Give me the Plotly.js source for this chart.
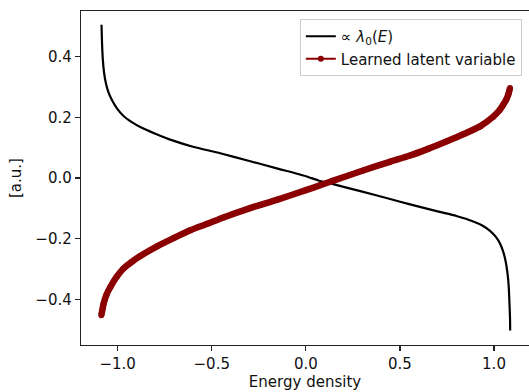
<!DOCTYPE html>
<html>
<head>
<meta charset="utf-8">
<script src="https://cdn.plot.ly/plotly-3.0.1.min.js"></script>
<style>html,body{margin:0;padding:0;background:#fff}#chart{width:529px;height:392px}</style>
</head>
<body>
<div id="chart"></div>
<script>
// Black curve: proportional to lambda_0(E)
const lambdaE = [-1.086, -1.083, -1.079, -1.072, -1.062, -1.048, -1.030, -1.005, -0.969, -0.925, -0.880, -0.800, -0.705, -0.600, -0.455, -0.300, -0.150, 0.000, 0.067, 0.150, 0.300, 0.448, 0.554, 0.700, 0.800, 0.890, 0.940, 0.979, 1.010, 1.032, 1.050, 1.062, 1.071, 1.078, 1.082, 1.085, 1.086];
const lambdaY = [0.505, 0.440, 0.390, 0.345, 0.310, 0.280, 0.256, 0.230, 0.204, 0.184, 0.168, 0.146, 0.123, 0.103, 0.0815, 0.056, 0.031, 0.006, -0.008, -0.021, -0.045, -0.069, -0.087, -0.110, -0.125, -0.143, -0.157, -0.174, -0.194, -0.216, -0.245, -0.275, -0.310, -0.355, -0.410, -0.460, -0.502];
// Red curve: learned latent variable
const latentE = [-1.087, -1.080, -1.075, -1.060, -1.039, -1.005, -0.969, -0.925, -0.880, -0.791, -0.700, -0.614, -0.520, -0.438, -0.300, -0.150, 0.000, 0.076, 0.150, 0.300, 0.450, 0.554, 0.650, 0.750, 0.837, 0.926, 0.996, 1.030, 1.049, 1.065, 1.076, 1.085];
const latentY = [-0.452, -0.430, -0.414, -0.385, -0.359, -0.325, -0.298, -0.276, -0.257, -0.225, -0.197, -0.172, -0.150, -0.130, -0.100, -0.071, -0.040, -0.024, -0.008, 0.024, 0.054, 0.074, 0.096, 0.121, 0.144, 0.170, 0.202, 0.224, 0.241, 0.258, 0.275, 0.296];
const xTicks = [-1.0, -0.5, 0.0, 0.5, 1.0];
const yTicks = [-0.4, -0.2, 0.0, 0.2, 0.4];

const font = 'DejaVu Sans, sans-serif';
const fs = 15;
const red = '#8b0000';
const traces = [
  {x: lambdaE, y: lambdaY, mode: 'lines', name: '∝ <i>λ</i><sub>0</sub>(<i>E</i>)',
   line: {color: '#000', width: 2.2, shape: 'spline', smoothing: 0.6}},
  {x: latentE, y: latentY, mode: 'lines', showlegend: false, hoverinfo: 'skip',
   line: {color: red, width: 6.5, shape: 'spline', smoothing: 0.6}},
  {x: latentE, y: latentY, mode: 'lines+markers', name: 'Learned latent variable',
   line: {color: red, width: 2.2, shape: 'spline', smoothing: 0.6},
   marker: {color: red, size: 6}}
];
const axisCommon = {
  showline: true, linecolor: '#222', linewidth: 1.2, ticks: 'outside', ticklen: 5,
  tickcolor: '#222', tickwidth: 1.2, showgrid: false, zeroline: false,
  tickfont: {family: font, size: fs, color: '#111'}, tickformat: '.1f'
};
const layout = {
  width: 529, height: 392,
  margin: {l: 81, r: 0, t: 11, b: 47},
  paper_bgcolor: '#fff', plot_bgcolor: '#fff',
  font: {family: font, size: fs, color: '#111'},
  xaxis: Object.assign({}, axisCommon, {
    range: [-1.195, 1.186], tickvals: xTicks, mirror: true,
    title: {text: 'Energy density', font: {family: font, size: fs, color: '#111'}, standoff: 4}
  }),
  yaxis: Object.assign({}, axisCommon, {
    range: [-0.55, 0.55], tickvals: yTicks,
    title: {text: '[a.u.]', font: {family: font, size: fs, color: '#111'}, standoff: 10}
  }),
  legend: {x: 0.984, y: 0.976, xanchor: 'right', yanchor: 'top',
    bgcolor: 'rgba(255,255,255,0.8)', bordercolor: '#cccccc', borderwidth: 1,
    font: {family: font, size: fs, color: '#111'}, tracegroupgap: 0},
  showlegend: true
};
Plotly.newPlot('chart', traces, layout, {staticPlot: true, displayModeBar: false});
</script>
</body>
</html>
